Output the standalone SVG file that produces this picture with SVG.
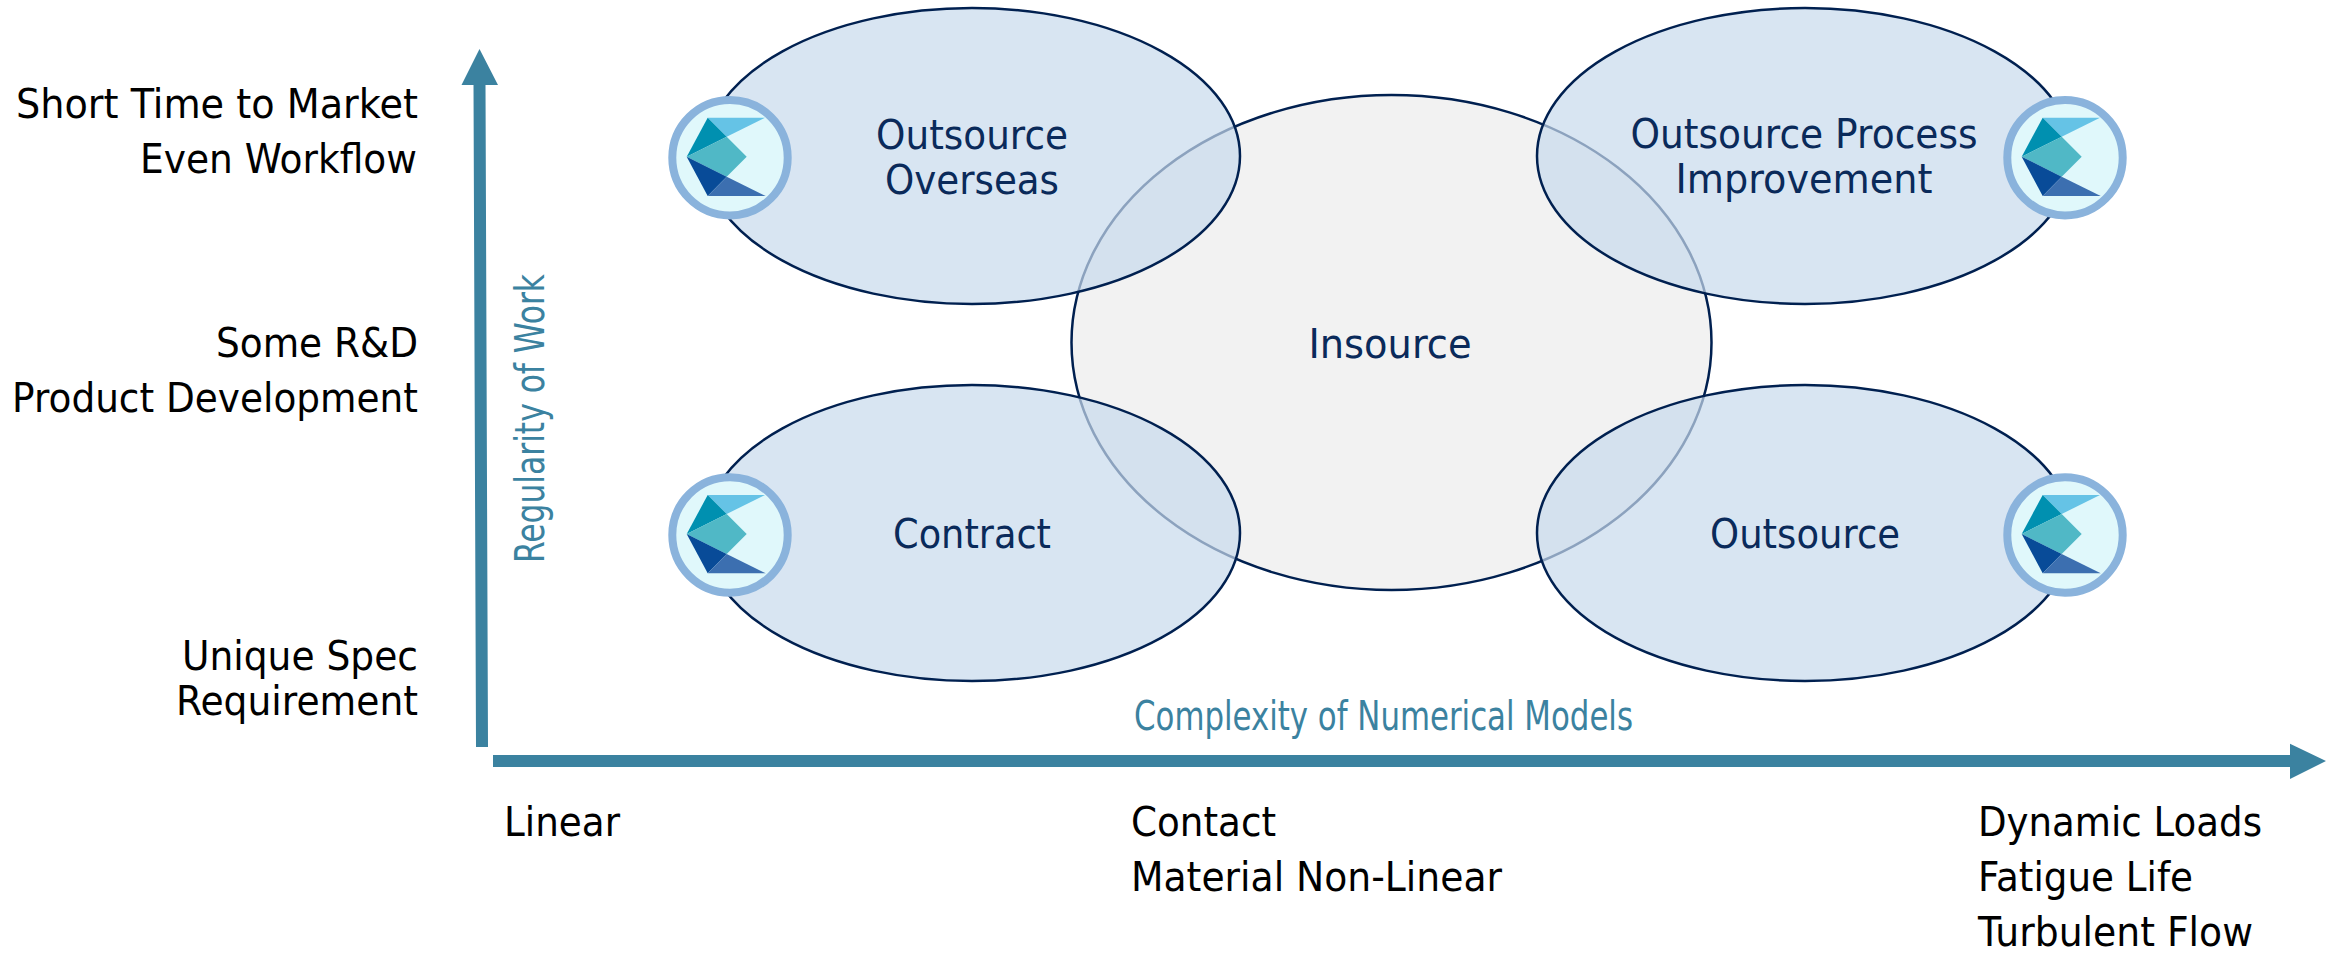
<svg xmlns="http://www.w3.org/2000/svg" width="2331" height="953" viewBox="0 0 2331 953">
<style>
text{font-family:"DejaVu Sans","Liberation Sans",sans-serif;font-size:40px}
.k{fill:#000}
.r{text-anchor:end}
.n{fill:#0a2a5a;text-anchor:middle}
.a{fill:#3b82a0;font-size:41px;font-family:"DejaVu Sans Condensed","DejaVu Sans",sans-serif}
.b{fill:#c7daec;fill-opacity:.7;stroke:#002050;stroke-width:2.5}
.c{fill:#e0f8fb;stroke:#8ab3dc;stroke-width:8}
</style>
<defs>
<g id="logo">
<circle class="c" r="57.7"/>
<polygon fill="#65c3e6" points="-22.3,-40 35,-40 -3.3,-21"/>
<polygon fill="#0090b0" points="-22.3,-40 -3.3,-21 -43.3,-1"/>
<polygon fill="#50b8c6" points="-43.3,-1 -3.3,-21 16.7,-1 -3.3,19"/>
<polygon fill="#084b98" points="-43.3,-1 -3.3,19 -22.3,38.3"/>
<polygon fill="#3c6fb0" points="-3.3,19 35.7,38.3 -22.3,38.3"/>
</g>
</defs>
<g id="insource"><ellipse cx="1391.5" cy="342.5" rx="320" ry="247.5" fill="#f2f2f2" stroke="#002050" stroke-width="2.5"/><text class="n" x="1390" y="358" textLength="163" lengthAdjust="spacingAndGlyphs">Insource</text></g>
<g id="overseas"><ellipse class="b" cx="972" cy="156" rx="268" ry="148"/><text class="n" x="972" y="149" textLength="192" lengthAdjust="spacingAndGlyphs">Outsource</text><text class="n" x="972" y="194" textLength="174" lengthAdjust="spacingAndGlyphs">Overseas</text></g>
<g id="process"><ellipse class="b" cx="1805" cy="156" rx="268" ry="148"/><text class="n" x="1804" y="148" textLength="347" lengthAdjust="spacingAndGlyphs">Outsource Process</text><text class="n" x="1804" y="193" textLength="257" lengthAdjust="spacingAndGlyphs">Improvement</text></g>
<g id="contract"><ellipse class="b" cx="972" cy="533" rx="268" ry="148"/><text class="n" x="972" y="548" textLength="158" lengthAdjust="spacingAndGlyphs">Contract</text></g>
<g id="outsource"><ellipse class="b" cx="1805" cy="533" rx="268" ry="148"/><text class="n" x="1805" y="548" textLength="190" lengthAdjust="spacingAndGlyphs">Outsource</text></g>
<g id="logos">
<use href="#logo" x="730" y="157.7"/>
<use href="#logo" x="2065" y="157.7"/>
<use href="#logo" x="730" y="535"/>
<use href="#logo" x="2065" y="535"/>
</g>
<g id="connectors">
<polygon fill="#3b82a0" points="476,747 488,747 485.5,85 498,85 479.5,49 461.5,85 473.5,85"/>
<polygon fill="#3b82a0" points="493,755 2290,755 2290,743.7 2326,761 2290,779 2290,767 493,767"/>
</g>
<g id="labels">
<text class="k r" x="418" y="118" textLength="402" lengthAdjust="spacingAndGlyphs">Short Time to Market</text>
<text class="k r" x="417" y="173" textLength="277" lengthAdjust="spacingAndGlyphs">Even Workflow</text>
<text class="k r" x="418" y="357" textLength="202" lengthAdjust="spacingAndGlyphs">Some R&amp;D</text>
<text class="k r" x="418" y="412" textLength="406" lengthAdjust="spacingAndGlyphs">Product Development</text>
<text class="k r" x="418" y="670" textLength="236" lengthAdjust="spacingAndGlyphs">Unique Spec</text>
<text class="k r" x="418" y="715" textLength="242" lengthAdjust="spacingAndGlyphs">Requirement</text>
<text class="k" x="504" y="836" textLength="116" lengthAdjust="spacingAndGlyphs">Linear</text>
<text class="k" x="1131" y="836" textLength="145" lengthAdjust="spacingAndGlyphs">Contact</text>
<text class="k" x="1131" y="891" textLength="371" lengthAdjust="spacingAndGlyphs">Material Non-Linear</text>
<text class="k" x="1978" y="836" textLength="284" lengthAdjust="spacingAndGlyphs">Dynamic Loads</text>
<text class="k" x="1978" y="891" textLength="215" lengthAdjust="spacingAndGlyphs">Fatigue Life</text>
<text class="k" x="1978" y="946" textLength="275" lengthAdjust="spacingAndGlyphs">Turbulent Flow</text>
<text class="a" x="1134" y="730" textLength="499" lengthAdjust="spacingAndGlyphs">Complexity of Numerical Models</text>
<text class="a" transform="translate(544 563) rotate(-90)" textLength="289" lengthAdjust="spacingAndGlyphs">Regularity of Work</text>
</g>
</svg>
